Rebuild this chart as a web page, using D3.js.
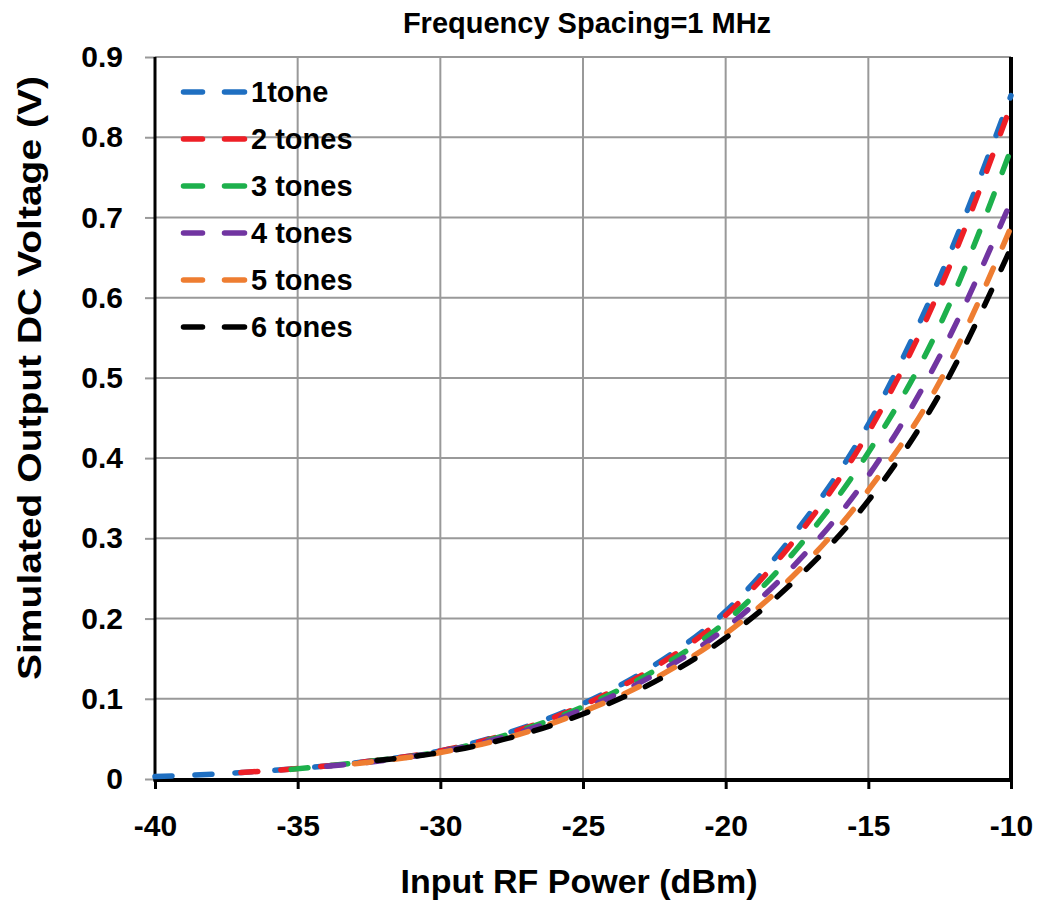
<!DOCTYPE html>
<html>
<head>
<meta charset="utf-8">
<script src="https://cdn.jsdelivr.net/npm/d3@7"></script>
<style>
  html, body { margin: 0; padding: 0; background: #fff; }
  svg { display: block; font-family: "Liberation Sans", Arial, sans-serif; font-weight: bold; }
</style>
</head>
<body>
<svg id="chart" width="1038" height="900"></svg>
<script>
// Series: each tone count starts at a different input power
const seriesNames = ["1tone", "2 tones", "3 tones", "4 tones", "5 tones", "6 tones"];
const seriesColors = ["#1f6fc1", "#ee1f26", "#1db04c", "#7135a1", "#ee7d31", "#000000"];

const power1 = [-40, -37.5, -35, -32.5, -30, -27.5, -25, -22.5, -20, -17.5, -15, -12.5, -10];
const volts1 = [0.003, 0.007, 0.013, 0.022, 0.035, 0.059, 0.094, 0.142, 0.209, 0.310, 0.442, 0.625, 0.852];

const power2 = [-36.99, -35, -32.5, -30, -27.5, -25, -22.5, -20, -17.5, -15, -12.5, -10];
const volts2 = [0.008, 0.013, 0.022, 0.035, 0.058, 0.092, 0.139, 0.204, 0.302, 0.432, 0.610, 0.840];

const power3 = [-35.23, -32.5, -30, -27.5, -25, -22.5, -20, -17.5, -15, -12.5, -10];
const volts3 = [0.012, 0.022, 0.034, 0.057, 0.090, 0.135, 0.196, 0.287, 0.407, 0.565, 0.785];

const power4 = [-33.98, -32.5, -30, -27.5, -25, -22.5, -20, -17.5, -15, -12.5, -10];
const volts4 = [0.016, 0.021, 0.034, 0.055, 0.087, 0.130, 0.188, 0.270, 0.378, 0.527, 0.720];

const power5 = [-33.01, -32.5, -30, -27.5, -25, -22.5, -20, -17.5, -15, -12.5, -10];
const volts5 = [0.019, 0.021, 0.033, 0.053, 0.084, 0.125, 0.181, 0.258, 0.360, 0.495, 0.688];

const power6 = [-32.22, -30, -27.5, -25, -22.5, -20, -17.5, -15, -12.5, -10];
const volts6 = [0.023, 0.033, 0.052, 0.081, 0.121, 0.176, 0.250, 0.347, 0.480, 0.662];

const xTicks = [-40, -35, -30, -25, -20, -15, -10];
const yTicks = [0, 0.1, 0.2, 0.3, 0.4, 0.5, 0.6, 0.7, 0.8, 0.9];

const chartTitle = "Frequency Spacing=1 MHz";
const xTitle = "Input RF Power (dBm)";
const yTitle = "Simulated Output DC Voltage (V)";

const powers = [power1, power2, power3, power4, power5, power6];
const volts = [volts1, volts2, volts3, volts4, volts5, volts6];
const series = seriesNames.map((name, i) => ({
  name,
  color: seriesColors[i],
  points: powers[i].map((p, j) => ({ p, v: volts[i][j] }))
}));

const W = 1038, H = 900;
const margin = { top: 57, right: 27, bottom: 121, left: 155 };
const iw = W - margin.left - margin.right;
const ih = H - margin.top - margin.bottom;

const svg = d3.select("#chart");
const g = svg.append("g").attr("transform", `translate(${margin.left},${margin.top})`);

const x = d3.scaleLinear().domain([-40, -10]).range([0, iw]);
const y = d3.scaleLinear().domain([0, 0.9]).range([ih, 0]);

// Gridlines
g.append("g").selectAll("line").data(yTicks).join("line")
  .attr("x1", 0).attr("x2", iw)
  .attr("y1", d => y(d)).attr("y2", d => y(d))
  .attr("stroke", "#999").attr("stroke-width", 2);
g.append("g").selectAll("line").data(xTicks).join("line")
  .attr("y1", 0).attr("y2", ih)
  .attr("x1", d => x(d)).attr("x2", d => x(d))
  .attr("stroke", "#999").attr("stroke-width", 2);

// Y axis
const yAxis = g.append("g")
  .call(d3.axisLeft(y).tickValues(yTicks).tickFormat(d => d === 0 ? "0" : d3.format(".1f")(d)).tickSize(10).tickPadding(22));
yAxis.select(".domain").remove();
yAxis.selectAll(".tick line").attr("stroke", "#999").attr("stroke-width", 2);
yAxis.selectAll(".tick text").attr("font-size", 30).attr("font-weight", "bold").attr("fill", "#000")
  .attr("font-family", "Liberation Sans, Arial, sans-serif");

// X axis (plain hyphen for negative labels)
const xAxis = g.append("g").attr("transform", `translate(0,${ih})`)
  .call(d3.axisBottom(x).tickValues(xTicks).tickFormat(d => String(d)).tickSize(10).tickPadding(26));
xAxis.select(".domain").remove();
xAxis.selectAll(".tick line").attr("stroke", "#000").attr("stroke-width", 3);
xAxis.selectAll(".tick text").attr("font-size", 30).attr("font-weight", "bold").attr("fill", "#000")
  .attr("font-family", "Liberation Sans, Arial, sans-serif");

// Axis lines and right border
g.append("line").attr("x1", 0).attr("x2", 0).attr("y1", 0).attr("y2", ih + 2)
  .attr("stroke", "#000").attr("stroke-width", 3);
g.append("line").attr("x1", iw).attr("x2", iw).attr("y1", 0).attr("y2", ih + 2)
  .attr("stroke", "#000").attr("stroke-width", 4);
g.append("line").attr("x1", -1.5).attr("x2", iw + 2).attr("y1", ih + 1).attr("y2", ih + 1)
  .attr("stroke", "#000").attr("stroke-width", 4);

// Curves
const line = d3.line().x(d => x(d.p)).y(d => y(d.v)).curve(d3.curveMonotoneX);
g.append("g").selectAll("path").data(series).join("path")
  .attr("d", d => line(d.points))
  .attr("fill", "none")
  .attr("stroke", d => d.color)
  .attr("stroke-width", 5.5)
  .attr("stroke-linecap", "round")
  .attr("stroke-dasharray", "17 23");

// Legend
const legend = svg.append("g").attr("transform", "translate(181,92)");
const item = legend.selectAll("g").data(series).join("g")
  .attr("transform", (d, i) => `translate(0,${i * 47})`);
item.append("line").attr("x1", 2.5).attr("x2", 21.5).attr("y1", 0).attr("y2", 0)
  .attr("stroke", d => d.color).attr("stroke-width", 5.5).attr("stroke-linecap", "round");
item.append("line").attr("x1", 43.5).attr("x2", 63.5).attr("y1", 0).attr("y2", 0)
  .attr("stroke", d => d.color).attr("stroke-width", 5.5).attr("stroke-linecap", "round");
item.append("text").attr("x", 70).attr("y", 0).attr("dy", "0.36em")
  .attr("font-size", 29).attr("fill", "#000").text(d => d.name);

// Titles
svg.append("text").attr("x", 587).attr("y", 33).attr("text-anchor", "middle")
  .attr("font-size", 29).attr("fill", "#000").text(chartTitle);
svg.append("text").attr("x", 579).attr("y", 893).attr("text-anchor", "middle")
  .attr("font-size", 34).attr("fill", "#000").text(xTitle);
svg.append("text").attr("transform", "translate(41,378) rotate(-90)").attr("text-anchor", "middle")
  .attr("font-size", 34).attr("textLength", 604).attr("lengthAdjust", "spacingAndGlyphs")
  .attr("fill", "#000").text(yTitle);
</script>
</body>
</html>
